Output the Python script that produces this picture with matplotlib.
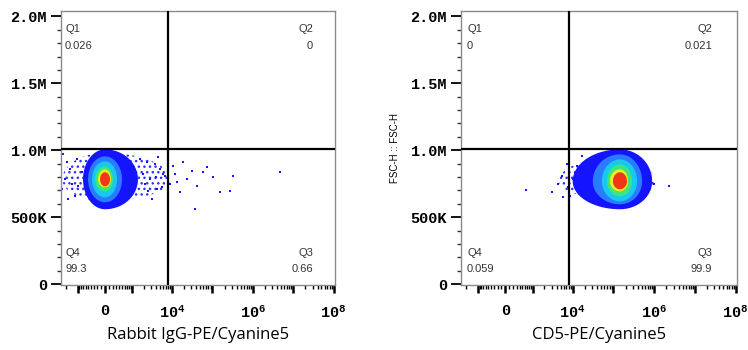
import numpy as np
import matplotlib
matplotlib.use("Agg")
import matplotlib.pyplot as plt

plt.rcParams['mathtext.fontset'] = 'custom'
plt.rcParams['mathtext.rm'] = 'Liberation Mono:bold'
plt.rcParams['mathtext.it'] = 'Liberation Mono:bold'
plt.rcParams['mathtext.bf'] = 'Liberation Mono:bold'
plt.rcParams['hatch.linewidth'] = 1.0

# ---------------- data ----------------
x_labels = ["Rabbit IgG-PE/Cyanine5", "CD5-PE/Cyanine5"]
y_label_right = "FSC-H :: FSC-H"
quad_names = ["Q1", "Q2", "Q3", "Q4"]
quad_values_left = ["0.026", "0", "0.66", "99.3"]
quad_values_right = ["0", "0.021", "99.9", "0.059"]

x_gate = 8000.0        # vertical quadrant gate (PE/Cyanine5)
y_gate = 1.01e6        # horizontal quadrant gate (FSC-H)

x_limits = (-2700, 1.08e8)
y_limits = (-7e3, 2.04e6)
y_ticks = [0, 5e5, 1e6, 1.5e6, 2e6]
y_ticklabels = ["0", "500K", "1.0M", "1.5M", "2.0M"]
x_major = [-1000, 0, 1e3, 1e4, 1e5, 1e6, 1e7, 1e8]
x_major_labels = ["", "0", "", "$10^4$", "", "$10^6$", "", "$10^8$"]

# density levels (outer -> core): x-low, x-high, y-low, y-high
level_colors = ['#1414ff', '#2a7cff', '#18c8f0', '#3ce67a', '#e8f020', '#f03818']
left_center = (0.0, 7.82e5)
left_xlo = [-712, -498, -358, -266, -181, -128]
left_xhi = [1410, 498, 327, 209, 154, 128]
left_ylo = [5.59e5, 6.11e5, 6.48e5, 6.93e5, 7.23e5, 7.30e5]
left_yhi = [1.006e6, 9.54e5, 9.17e5, 8.79e5, 8.57e5, 8.35e5]
# sparse halo around the population (x-low, x-high, y-low, y-high)
left_halo = (-2500, 9000, 6.2e5, 9.8e5)

right_center = (1.445e5, 7.68e5)
right_xlo = [9970, 31100, 52000, 69100, 81800, 97000]
right_xhi = [8.91e5, 5.05e5, 3.80e5, 2.86e5, 2.28e5, 2.15e5]
right_ylo = [5.59e5, 5.96e5, 6.18e5, 6.56e5, 6.93e5, 7.08e5]
right_yhi = [1.006e6, 9.69e5, 9.31e5, 8.94e5, 8.57e5, 8.35e5]
right_halo = (4500, 1.0e6, 6.3e5, 9.5e5)

# sparse events outside the dense core
left_sparse_x = [-2390, -2530, -2130, -1590, -1180, -1900, -1040, -980, -760, -1410, -1780,
                 1590, 2130, 2390, 2840, 3190, 3790, 4250, 4500, 5040, 5980, 6710,
                 10600, 13300, 18700, 23400, 31100, 36900, 41400, 58300, 73100, 102800,
                 153000, 270000, 321000, 4.6e6,
                 1850, 2540, 4010, 5620, 7940, 8900, 11800, 15700]
left_sparse_y = [9.69e5, 7.08e5, 7.82e5, 8.57e5, 6.56e5, 9.09e5, 9.31e5, 7.30e5, 8.35e5, 7.45e5, 6.33e5,
                 9.31e5, 7.45e5, 9.09e5, 7.82e5, 6.33e5, 8.94e5, 7.08e5, 9.46e5, 8.57e5, 8.20e5, 8.05e5,
                 8.79e5, 7.60e5, 9.09e5, 7.82e5, 8.42e5, 5.59e5, 7.30e5, 8.35e5, 8.72e5, 7.97e5,
                 6.86e5, 6.93e5, 8.05e5, 8.35e5,
                 8.20e5, 6.93e5, 7.97e5, 7.23e5, 9.31e5, 7.45e5, 8.20e5, 6.86e5]

right_sparse_x = [665, 3010, 4250, 5340, 7090, 5620, 7500, 8420, 12500, 13300, 9970, 16600,
                  671000, 534000, 2.34e6, 999000, 23400, 26300, 19700]
right_sparse_y = [7.00e5, 6.86e5, 7.45e5, 8.05e5, 8.94e5, 6.48e5, 7.23e5, 6.56e5, 8.79e5, 7.60e5,
                  7.82e5, 9.54e5, 7.60e5, 6.56e5, 7.30e5, 7.45e5, 8.57e5, 6.71e5, 7.45e5]

panels = [
    dict(xlabel=x_labels[0], ylabel=None, qvals=quad_values_left, center=left_center,
         xlo=left_xlo, xhi=left_xhi, ylo=left_ylo, yhi=left_yhi, halo=left_halo,
         sx=left_sparse_x, sy=left_sparse_y, rect=[61/748, 65/350, 274/748, 274/350],
         qx=(4/274, 1-22/274)),
    dict(xlabel=x_labels[1], ylabel=y_label_right, qvals=quad_values_right, center=right_center,
         xlo=right_xlo, xhi=right_xhi, ylo=right_ylo, yhi=right_yhi, halo=right_halo,
         sx=right_sparse_x, sy=right_sparse_y, rect=[461/748, 65/350, 276/748, 274/350],
         qx=(6/276, 1-25/276)),
]

fig = plt.figure(figsize=(7.48, 3.5), dpi=100)

x_minor = []
for d in (2, 3):
    for k in range(1, 10):
        x_minor += [k * 10**d, -k * 10**d]
for d in range(4, 8):
    for k in range(2, 10):
        x_minor.append(k * 10**d)
x_minor = [v for v in x_minor if x_limits[0] <= v <= x_limits[1]]

theta = np.linspace(0, 2 * np.pi, 240)


def ellipse(ax, center, xl, xh, yl, yh):
    tr = ax.xaxis.get_transform()
    inv = tr.inverted()
    cx, cy = center
    tcx = tr.transform(np.array([cx]))[0]
    c = np.cos(theta)
    s = np.sin(theta)
    rl = tcx - tr.transform(np.array([xl]))[0]
    rr = tr.transform(np.array([xh]))[0] - tcx
    tx = tcx + np.where(c < 0, rl, rr) * c
    ys = cy + np.where(s < 0, cy - yl, yh - cy) * s
    return inv.transform(tx), ys


for p in panels:
    ax = fig.add_axes(p['rect'])
    ax.set_xscale('asinh', linear_width=443)

    ax.set_yticks(y_ticks)
    ax.set_yticklabels(y_ticklabels, family='Liberation Mono', weight='bold', fontsize=11)
    ax.set_yticks(np.arange(0, 2.04e6, 1e5), minor=True)
    ax.tick_params(axis='y', which='major', length=7, width=1.3, pad=3, color='black')
    ax.tick_params(axis='y', which='minor', length=3, width=1.0, color='#333333')

    ax.set_xticks(x_major)
    ax.set_xticklabels(x_major_labels, family='Liberation Mono', weight='bold', fontsize=11)
    ax.set_xticks(x_minor, minor=True)
    ax.set_xticklabels([], minor=True)
    ax.tick_params(axis='x', which='major', length=6, width=1.8, pad=8, color='black')
    ax.tick_params(axis='x', which='minor', length=3, width=1.0, color='black')

    ax.set_xlim(*x_limits)
    ax.set_ylim(*y_limits)

    hx, hy = ellipse(ax, p['center'], *p['halo'])
    ax.fill(hx, hy, facecolor='none', edgecolor='#3030ff', hatch='...', lw=0, zorder=1.5)
    for col, xl, xh, yl, yh in zip(level_colors, p['xlo'], p['xhi'], p['ylo'], p['yhi']):
        xs, ys = ellipse(ax, p['center'], xl, xh, yl, yh)
        ax.fill(xs, ys, color=col, lw=0, zorder=2)
    ax.scatter(p['sx'], p['sy'], s=3, marker='s', c='#1414ff', lw=0, zorder=2)

    ax.axvline(x_gate, color='black', lw=1.6, zorder=4)
    ax.axhline(y_gate, color='black', lw=1.6, zorder=4)

    for sp in ax.spines.values():
        sp.set_color('#8a8a8a')
        sp.set_linewidth(1.0)

    ax.set_xlabel(p['xlabel'], family='Open Sans', fontsize=12, labelpad=4)
    if p['ylabel']:
        ax.set_ylabel(p['ylabel'], family='Liberation Sans', fontsize=7, labelpad=8)

    xl_, xr_ = p['qx']
    tk = dict(transform=ax.transAxes, family='Liberation Sans', fontsize=8,
              color='#333333', va='baseline', zorder=5)
    ax.text(xl_, 0.923, quad_names[0], ha='left', **tk)
    ax.text(xl_, 0.861, p['qvals'][0], ha='left', **tk)
    ax.text(xr_, 0.923, quad_names[1], ha='right', **tk)
    ax.text(xr_, 0.861, p['qvals'][1], ha='right', **tk)
    ax.text(xr_, 0.106, quad_names[2], ha='right', **tk)
    ax.text(xr_, 0.047, p['qvals'][2], ha='right', **tk)
    ax.text(xl_, 0.106, quad_names[3], ha='left', **tk)
    ax.text(xl_, 0.047, p['qvals'][3], ha='left', **tk)

fig.savefig("out.png", dpi=100)
